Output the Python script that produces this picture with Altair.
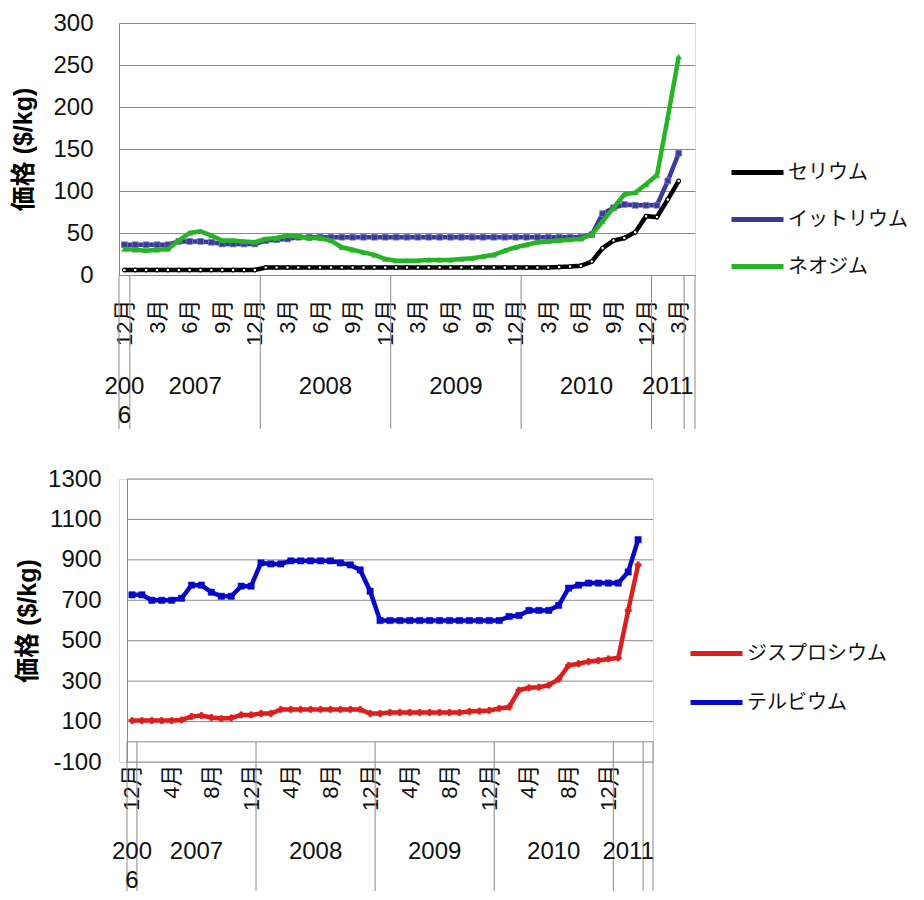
import altair as alt
import pandas as pd

# ---------------- category axis: monthly, Dec 2006 .. Mar 2011 (+1 empty slot) ----------------
n_slots = 53
year_names = ["200\n6", "2007", "2008", "2009", "2010", "2011", ""]
year_counts = [1, 12, 12, 12, 12, 3, 1]

# ---------------- top chart ----------------
top_names = ["セリウム", "イットリウム", "ネオジム"]
top_month_ticks = [0, 3, 6, 9, 12, 15, 18, 21, 24, 27, 30, 33, 36, 39, 42, 45, 48, 51]
top_y_ticks = [0, 50, 100, 150, 200, 250, 300]
cerium = [6, 6, 6, 6, 6, 6, 6, 6, 6, 6, 6, 6, 6,
          9, 9, 9, 9, 9, 9, 9, 9, 9, 9, 9, 9,
          9, 9, 9, 9, 9, 9, 9, 9, 9, 9, 9, 9,
          9, 9, 9, 9.5, 10, 11, 16, 32, 41, 44, 51, 70,
          69, 90, 112]
yttrium = [36, 36, 36, 36, 36, 40, 40, 40, 39, 37, 37, 37, 37,
           41, 42, 43, 45, 45, 45, 45, 45, 45, 45, 45, 45,
           45, 45, 45, 45, 45, 45, 45, 45, 45, 45, 45, 45,
           45, 45, 45, 45, 45, 45, 48, 73, 80, 84, 83, 83,
           83, 112, 145]
neodymium = [31, 30, 29, 30, 31, 41, 50, 52, 47, 41, 41, 40, 39,
             43, 44, 47, 46, 44, 44, 41, 33, 30, 27, 24, 19,
             17, 17, 17, 18, 18, 18, 19, 20, 22, 24, 29, 33,
             36, 39, 40, 41, 42, 43, 48, 64, 80, 96, 98, 108,
             119, 188, 260]
top_colors = ["#000000", "#3a3a98", "#26b426"]

# ---------------- bottom chart ----------------
bot_names = ["ジスプロシウム", "テルビウム"]
bot_month_ticks = [0, 4, 8, 12, 16, 20, 24, 28, 32, 36, 40, 44, 48]
bot_y_ticks = [-100, 100, 300, 500, 700, 900, 1100, 1300]
dysprosium = [105, 105, 105, 105, 105, 108, 125, 130, 120, 115, 118, 133, 133,
              140, 140, 160, 160, 160, 160, 160, 160, 160, 160, 160, 140,
              140, 145, 145, 145, 145, 145, 145, 145, 145, 150, 152, 155,
              165, 172, 255, 267, 270, 280, 310, 378, 386, 397, 402, 410,
              415, 650, 875]
terbium = [727, 727, 700, 700, 700, 710, 775, 775, 740, 720, 720, 770, 770,
           885, 880, 880, 895, 895, 895, 895, 895, 885, 875, 850, 745,
           600, 600, 600, 600, 600, 600, 600, 600, 600, 600, 600, 600,
           600, 620, 625, 650, 650, 650, 675, 760, 775, 785, 785, 785,
           785, 840, 1000]
bot_colors = ["#dc1e1e", "#0808c8"]

FONT = "Liberation Sans, Arial, Noto Sans CJK JP"
JP = "Noto Sans CJK JP"
GRID = "#8a8a8a"
TXT = "#111111"


def long_df(names, series):
    rows = []
    for name, vals in zip(names, series):
        for i, v in enumerate(vals):
            rows.append({"series": name, "idx": i, "value": v})
    return pd.DataFrame(rows)


starts = []
s = 0
for c in year_counts:
    starts.append(s)
    s += c
year_df = pd.DataFrame({
    "idx": [st + (c - 1) / 2 for st, c in zip(starts, year_counts)],
    "label": year_names,
})
sep_df = pd.DataFrame({
    "idx": [st - 0.5 for st in starts] + [n_slots - 0.5],
    "value": 0,
})

MONTH_EXPR = "(datum.value % 12 == 0 ? 12 : datum.value % 12) + '月'"


def panel(names, series, colors, markers, y_ticks, month_ticks, W, H,
          x_range, y_offset, title_pad, x_label_pad, manual_grid,
          legend_x, legend_y, legend_rowpad, year_dy, sep_dy):
    df = long_df(names, series)
    sc_kw = dict(domain=[-0.5, n_slots - 0.5], nice=False, zero=False)
    if x_range is not None:
        sc_kw["range"] = x_range
    xscale = alt.Scale(**sc_kw)
    xaxis = alt.Axis(values=month_ticks, labelExpr=MONTH_EXPR, labelAngle=270,
                     labelAlign="right", labelBaseline="middle",
                     labelPadding=x_label_pad, labelFontSize=22, labelFont=FONT,
                     labelColor=TXT, ticks=False, tickSize=0, grid=False,
                     domain=not manual_grid, domainColor=GRID, title=None,
                     labelOverlap=False, labelFlush=False, labelBound=False)
    yscale = alt.Scale(domain=[y_ticks[0], y_ticks[-1]], nice=False, zero=False)
    ykw = dict(values=y_ticks, grid=not manual_grid, gridColor=GRID,
               domain=True, domainColor=GRID, ticks=False, tickSize=0,
               labelExpr="'' + datum.value",
               labelPadding=26, labelFontSize=24, labelFont=FONT,
               labelColor=TXT, title="価格 ($/kg)", titleFont=FONT,
               titleFontSize=25, titleFontWeight="bold", titleColor="#000000",
               titlePadding=title_pad)
    if y_offset:
        ykw["offset"] = y_offset
    yaxis = alt.Axis(**ykw)
    X = alt.X("idx:Q", scale=xscale, axis=xaxis)
    Y = alt.Y("value:Q", scale=yscale, axis=yaxis)
    color = alt.Color("series:N", scale=alt.Scale(domain=names, range=colors),
                      legend=alt.Legend(title=None, orient="none",
                                        legendX=legend_x, legendY=legend_y,
                                        symbolType="stroke", symbolSize=2704,
                                        symbolStrokeWidth=5, labelFont=JP,
                                        labelFontSize=20, labelColor=TXT,
                                        labelOffset=2, rowPadding=legend_rowpad,
                                        padding=0))
    layers = []
    if manual_grid:
        gdf = pd.DataFrame({"value": list(y_ticks) + [0],
                            "idx": -0.5, "idx2": n_slots - 0.5})
        layers.append(alt.Chart(gdf).mark_rule(color=GRID, strokeWidth=1).encode(
            x=X, x2="idx2:Q", y=Y))
    layers.append(alt.Chart(sep_df).mark_rule(color=GRID, strokeWidth=1).encode(
        x=X, y=Y, y2=alt.value(H + sep_dy)))
    layers.append(alt.Chart(year_df).mark_text(
        font=FONT, fontSize=24, align="center", baseline="alphabetic",
        lineBreak="\n", lineHeight=29, color=TXT).encode(
        x=X, y=alt.value(H + year_dy), text="label:N"))
    for name, col, mk in zip(names, colors, markers):
        base = alt.Chart(df).transform_filter(alt.datum.series == name)
        layers.append(base.mark_line(strokeWidth=4.5).encode(x=X, y=Y, color=color))
        layers.append(base.mark_point(opacity=1, **mk).encode(x=X, y=Y))
    return alt.layer(*layers).properties(width=W, height=H)


top_markers = [
    dict(shape="circle", filled=True, fill="#ffffff", stroke="#000000", strokeWidth=1.2, size=14),
    dict(shape="square", filled=True, fill=top_colors[1], stroke="#7676c8", strokeWidth=0.8, size=34),
    dict(shape="triangle-up", filled=True, fill=top_colors[2], stroke=top_colors[2], strokeWidth=0.5, size=30),
]
bot_markers = [
    dict(shape="cross", filled=True, fill=bot_colors[0], stroke=bot_colors[0], strokeWidth=0.5, size=40),
    dict(shape="square", filled=True, fill=bot_colors[1], stroke=bot_colors[1], strokeWidth=0.5, size=40),
]

top = panel(top_names, [cerium, yttrium, neodymium], top_colors, top_markers,
            top_y_ticks, top_month_ticks, W=576, H=252, x_range=None, y_offset=0,
            title_pad=16, x_label_pad=24, manual_grid=False,
            legend_x=610, legend_y=121, legend_rowpad=8, year_dy=119, sep_dy=154)

bottom = panel(bot_names, [dysprosium, terbium], bot_colors, bot_markers,
               bot_y_ticks, bot_month_ticks, W=534, H=283, x_range=[8, 534], y_offset=-8,
               title_pad=7, x_label_pad=2, manual_grid=True,
               legend_x=569, legend_y=146, legend_rowpad=10, year_dy=97, sep_dy=129)

chart = alt.vconcat(top, bottom, spacing=36).resolve_scale(
    x="independent", y="independent", color="independent"
).properties(
    padding={"left": 3, "top": 2, "right": 0, "bottom": 0}
).configure_view(strokeWidth=0).configure(background="white")

chart.save("out.html", embed_options={"renderer": "svg", "actions": False})
